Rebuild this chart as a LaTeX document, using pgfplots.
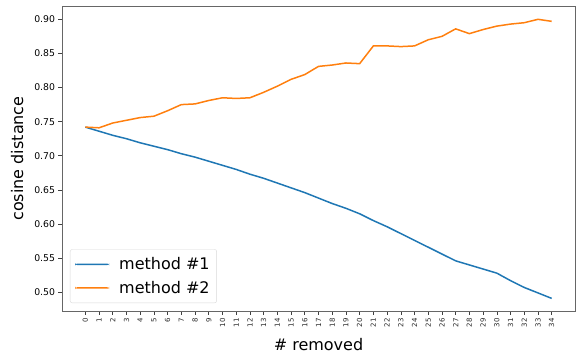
\documentclass[border=0pt]{standalone}
\usepackage{pgfplots}
\pgfplotsset{compat=1.18}
\usepackage{fontspec}
\setmainfont{DejaVu Sans}
\definecolor{mplblue}{HTML}{1F77B4}
\definecolor{mplorange}{HTML}{FF7F0E}
\begin{document}
\begin{tikzpicture}
\begin{axis}[
  scale only axis, width=513pt, height=305pt,
  at={(0,0)}, anchor=south west,
  xmin=-1.7, xmax=35.7, ymin=0.4725, ymax=0.9195,
  xtick={0,1,2,3,4,5,6,7,8,9,10,11,12,13,14,15,16,17,18,19,20,21,22,23,24,25,26,27,28,29,30,31,32,33,34},
  xticklabels={},
  ytick={0.50,0.55,0.60,0.65,0.70,0.75,0.80,0.85,0.90},
  yticklabels={0.50,0.55,0.60,0.65,0.70,0.75,0.80,0.85,0.90},
  y tick label style={font=\fontsize{9.3}{11}\selectfont},
  tick align=outside, tick pos=left,
  major tick length=3.5pt,
  tick style={black!75, line width=0.6pt},
  axis line style={black!60, line width=0.8pt},
  xlabel={\# removed}, ylabel={cosine distance},
  xlabel style={font=\fontsize{16}{19}\selectfont, at={(axis description cs:0.5,0)}, anchor=base, yshift=-39pt},
  ylabel style={font=\fontsize{16}{19}\selectfont},
  ylabel shift=4pt,
  every axis plot/.append style={line width=1.5pt},
  legend style={at={(axis description cs:0.0156,0.0262)}, anchor=south west, draw=black!15, rounded corners=2pt, font=\fontsize{16}{19}\selectfont, inner xsep=5pt, inner ysep=6pt, row sep=6pt, column sep=8pt},
  legend cell align=left,
  legend image code/.code={\fill[#1, draw=none] (0pt,-0.75pt) rectangle (34pt,0.75pt);},
]
\addplot[color=mplblue] coordinates {
(0,0.742)(1,0.736)(2,0.730)(3,0.725)(4,0.719)(5,0.714)(6,0.709)(7,0.703)(8,0.698)(9,0.692)
(10,0.686)(11,0.680)(12,0.673)(13,0.667)(14,0.660)(15,0.653)(16,0.646)(17,0.638)(18,0.630)(19,0.623)
(20,0.615)(21,0.605)(22,0.596)(23,0.586)(24,0.576)(25,0.566)(26,0.556)(27,0.546)(28,0.540)(29,0.534)
(30,0.528)(31,0.517)(32,0.507)(33,0.499)(34,0.491)};
\addlegendentry{method \#1}
\addplot[color=mplorange] coordinates {
(0,0.742)(1,0.741)(2,0.748)(3,0.752)(4,0.756)(5,0.758)(6,0.766)(7,0.775)(8,0.776)(9,0.781)
(10,0.785)(11,0.784)(12,0.785)(13,0.793)(14,0.802)(15,0.812)(16,0.819)(17,0.831)(18,0.833)(19,0.836)
(20,0.835)(21,0.861)(22,0.861)(23,0.860)(24,0.861)(25,0.870)(26,0.875)(27,0.886)(28,0.879)(29,0.885)
(30,0.890)(31,0.893)(32,0.895)(33,0.900)(34,0.897)};
\addlegendentry{method \#2}
\end{axis}
\foreach \i in {0,...,34} {
  \node[rotate=90, anchor=east, inner sep=0pt, text=black!85, font=\fontsize{7}{8}\selectfont] at ({(\i+1.7)*13.7166pt},-7pt) {\i};
}
\pgfresetboundingbox
\path[use as bounding box] (-62pt,-43pt) rectangle (514pt,311pt);
\end{tikzpicture}
\end{document}
